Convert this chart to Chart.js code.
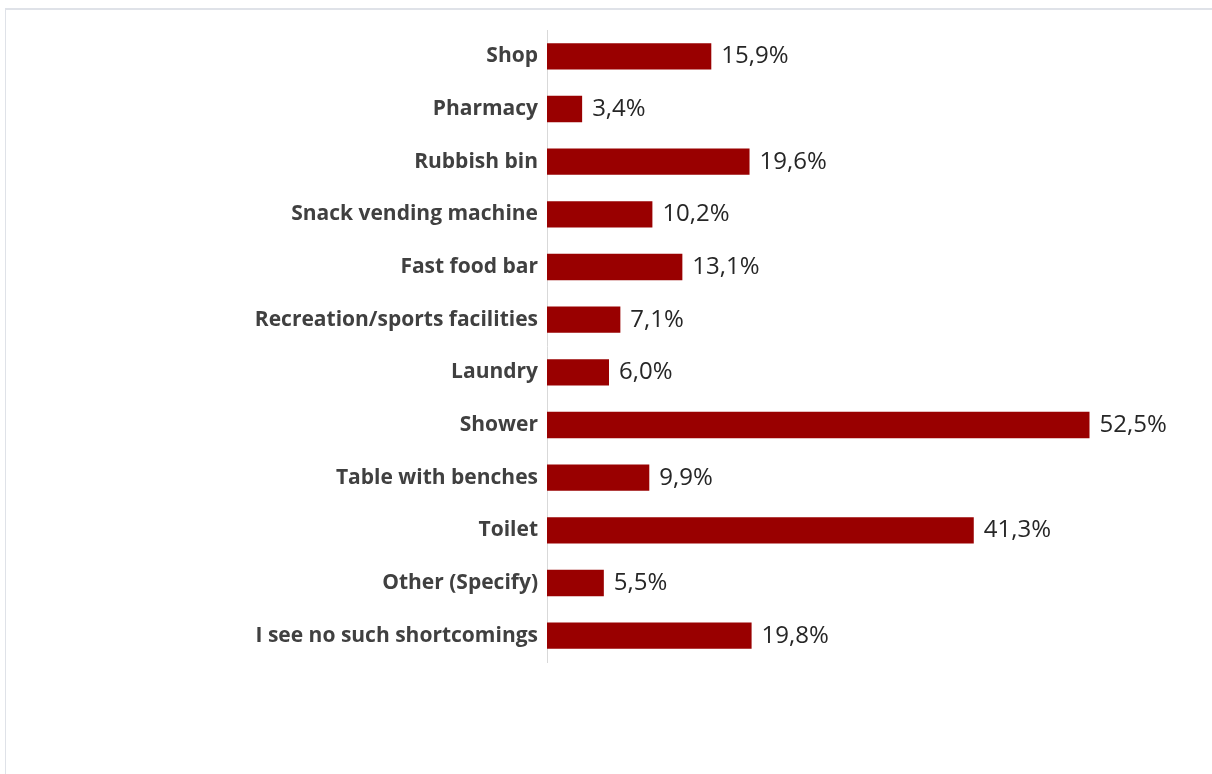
<!DOCTYPE html>
<html>
<head>
<meta charset="utf-8">
<title>Shortcomings</title>
<script src="https://cdn.jsdelivr.net/npm/chart.js@4/dist/chart.umd.min.js"></script>
<style>
  html, body { margin: 0; padding: 0; background: #fff; overflow: hidden; }
  #frame {
    position: absolute; left: 5px; top: 8px; width: 1400px; height: 1000px;
    border-top: 2px solid #dfe2e8; border-left: 1px solid #dfe2e8;
  }
  #wrap { position: absolute; left: 0; top: 0; width: 1212px; height: 774px; }
</style>
</head>
<body>
<div id="frame"></div>
<div id="wrap"><canvas id="chart"></canvas></div>
<script>
const categories = [
  'Shop', 'Pharmacy', 'Rubbish bin', 'Snack vending machine', 'Fast food bar',
  'Recreation/sports facilities', 'Laundry', 'Shower', 'Table with benches',
  'Toilet', 'Other (Specify)', 'I see no such shortcomings'
];
const shares = [15.9, 3.4, 19.6, 10.2, 13.1, 7.1, 6.0, 52.5, 9.9, 41.3, 5.5, 19.8];

// percentages with a decimal comma, as printed next to each bar
function fmt(v) {
  return v.toFixed(1).replace('.', ',') + '%';
}

const valueLabels = {
  id: 'valueLabels',
  afterDatasetsDraw(chart) {
    const ctx = chart.ctx;
    const meta = chart.getDatasetMeta(0);
    ctx.save();
    ctx.font = '24px "Open Sans", sans-serif';
    ctx.fillStyle = '#262626';
    ctx.textAlign = 'left';
    ctx.textBaseline = 'middle';
    meta.data.forEach((bar, i) => {
      ctx.fillText(fmt(shares[i]), bar.x + 10, bar.y);
    });
    ctx.restore();
  }
};

new Chart(document.getElementById('chart'), {
  type: 'bar',
  data: {
    labels: categories,
    datasets: [{
      data: shares,
      backgroundColor: '#990000',
      borderWidth: 0,
      barPercentage: 0.5,
      categoryPercentage: 1.0
    }]
  },
  options: {
    indexAxis: 'y',
    responsive: true,
    maintainAspectRatio: false,
    animation: false,
    layout: { padding: { top: 30, bottom: 112, right: 45, left: 0 } },
    plugins: {
      legend: { display: false },
      tooltip: { enabled: false }
    },
    scales: {
      x: {
        display: false,
        min: 0,
        max: 60
      },
      y: {
        grid: { display: false, drawTicks: false },
        border: { display: true, color: '#d9d9d9', width: 1 },
        ticks: {
          padding: 9,
          color: '#404040',
          font: { family: '"Open Sans", sans-serif', size: 21, weight: 'bold' }
        },
        afterFit(scale) { scale.width = 547; }
      }
    }
  },
  plugins: [valueLabels]
});
</script>
</body>
</html>
